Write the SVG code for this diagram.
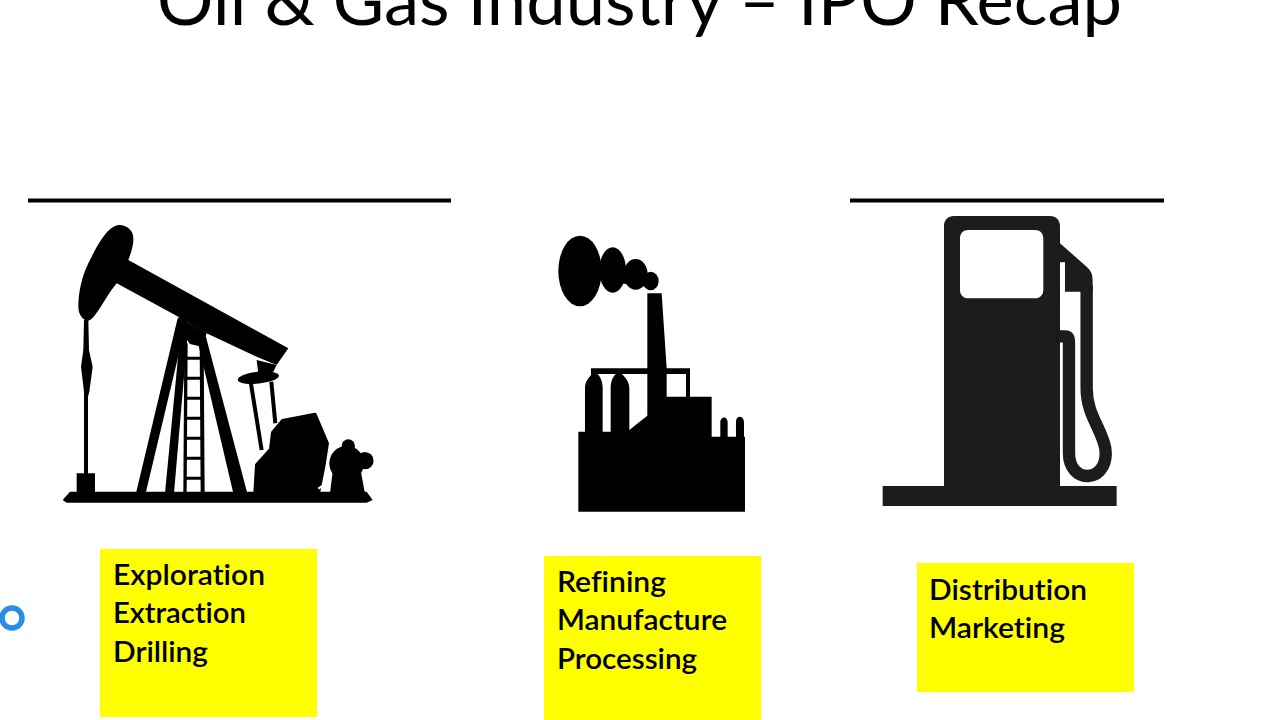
<svg xmlns="http://www.w3.org/2000/svg" width="1280" height="720" viewBox="0 0 1280 720">
<style>
text{font-variant-ligatures:none;fill:#000;font-family:"Lato","Open Sans",sans-serif}
.t{font-size:70px;font-weight:400}
.l{font-size:28px;font-weight:600}
.b{fill:#ff0}
.r{fill:#000}
.i{fill:#000}
</style>
<defs><filter id="s" x="-5%" y="-5%" width="110%" height="110%"><feGaussianBlur stdDeviation="1"/></filter></defs>
<rect width="1280" height="720" fill="#fff"/>
<text id="title" class="t" x="157" y="25" textLength="965" lengthAdjust="spacingAndGlyphs">Oil &amp; Gas Industry – IPO Recap</text>
<rect id="rule-left" class="r" x="28" y="198.500" width="423" height="4"/>
<rect id="rule-right" class="r" x="850" y="198.500" width="314" height="4"/>

<g id="pumpjack" transform="translate(50 210) scale(.3333)" filter="url(#s)">
<path class="i" d="M205 45C170 50 140 110 115 160C95 200 85 250 85 290C85 315 100 332 115 332C135 330 160 270 200 220L385 320L460 365L620 440L680 465L715 415L235 150C250 110 255 85 245 65C235 50 220 45 205 45Z"/>
<path class="i" d="M102 330H115L117 420L128 470L118 545L114 560V790H135V850H80V790H102V545L93 470L100 420Z"/>
<path class="i" d="M60 845H950L968 870L950 878H50L38 870Z"/>
<path class="i" d="M383 325H412L287 850H258Z"/>
<path class="i" d="M392 360H414L372 850H345Z"/>
<path class="i" d="M435 360L465 370L592 850H550Z"/>
<path class="i" d="M385 320L470 370L455 410L420 402L398 372Z"/>
<path d="M408 400L405 850" stroke="#000" stroke-width="10" fill="none"/>
<path d="M455 400L458 850" stroke="#000" stroke-width="12" fill="none"/>
<path d="M405 445H455M405 505H455M405 565H455M405 625H455M405 685H455M405 745H455M405 805H455" stroke="#000" stroke-width="9" fill="none"/>
<path class="i" d="M620 450L680 465L670 485L625 490Z"/>
<ellipse class="i" cx="625" cy="503" rx="62" ry="18" transform="rotate(-6 625 503)"/>
<path d="M602 515L635 720M664 515L676 640" stroke="#000" stroke-width="12" fill="none"/>
<path class="i" stroke="#000" stroke-width="10" stroke-linejoin="round" d="M615 850L620 765L662 718L668 668L698 632L795 613L832 700L822 765L805 850Z"/>
<circle class="i" cx="890" cy="760" r="52"/>
<circle class="i" cx="895" cy="708" r="20"/>
<circle class="i" cx="945" cy="752" r="26"/>
<path class="i" d="M840 850L850 770H930L945 850Z"/>
<path d="M805 836L842 812" stroke="#fff" stroke-width="7" fill="none"/>
</g>

<g id="factory" transform="translate(540 225) scale(.3333)" filter="url(#s)">
<ellipse class="i" cx="120" cy="138" rx="65" ry="106"/>
<ellipse class="i" cx="218" cy="135" rx="40" ry="68"/>
<ellipse class="i" cx="287" cy="148" rx="36" ry="46"/>
<ellipse class="i" cx="332" cy="168" rx="24" ry="28"/>
<path class="i" d="M170 125L340 150V188L170 165Z"/>
<path class="i" d="M322 205H365L380 430H450V515H515V635H615V860H115V620H135V490C135 470 145 460 153 450V430H322ZM172 447H228C218 455 212 470 212 490V620H188V490C188 470 182 455 172 447ZM245 447H322V572L268 615V490C268 470 255 455 245 447ZM380 447V515H438V447Z" fill-rule="evenodd"/>
<path class="i" d="M541 640V590C541 578 560 570 563 590V640ZM588 640V590C588 570 610 570 612 590V640Z"/>
</g>

<g id="gas-pump" transform="translate(870 205) scale(.3333)" filter="url(#s)">
<path d="M252 33H540C558 33 570 45 570 63V843H740V903H38V843H222V63C222 45 234 33 252 33ZM295 75C280 75 270 85 270 100V255C270 270 280 280 295 280H495C510 280 520 270 520 255V100C520 85 510 75 495 75Z" fill="#1a1a1a" fill-rule="evenodd"/>
<path d="M570 115L650 185C662 197 668 205 668 225V260H585V172H570Z" fill="#1a1a1a"/>
<path d="M560 394H585C595 394 597 402 597 412V745C597 790 625 815 655 813C695 810 712 770 706 730C695 670 650 630 650 550V240" fill="none" stroke="#1a1a1a" stroke-width="37"/>
</g>

<g id="box-upstream">
<rect class="b" x="100" y="549" width="217" height="168"/>
<text class="l" x="113" y="585" textLength="152" lengthAdjust="spacingAndGlyphs">Exploration</text>
<text class="l" x="113" y="623" textLength="133" lengthAdjust="spacingAndGlyphs">Extraction</text>
<text class="l" x="113" y="662" textLength="95" lengthAdjust="spacingAndGlyphs">Drilling</text>
</g>
<g id="box-midstream">
<rect class="b" x="544" y="556" width="217" height="164"/>
<text class="l" x="557" y="592" textLength="109" lengthAdjust="spacingAndGlyphs">Refining</text>
<text class="l" x="557" y="630" textLength="170" lengthAdjust="spacingAndGlyphs">Manufacture</text>
<text class="l" x="557" y="669" textLength="140" lengthAdjust="spacingAndGlyphs">Processing</text>
</g>
<g id="box-downstream">
<rect class="b" x="917" y="563" width="217" height="129"/>
<text class="l" x="929" y="600" textLength="158" lengthAdjust="spacingAndGlyphs">Distribution</text>
<text class="l" x="929" y="638" textLength="136" lengthAdjust="spacingAndGlyphs">Marketing</text>
</g>
<circle id="cursor-ring" cx="12" cy="618" r="10" fill="#fff" stroke="#2a8ce2" stroke-width="5.500"/>
</svg>
